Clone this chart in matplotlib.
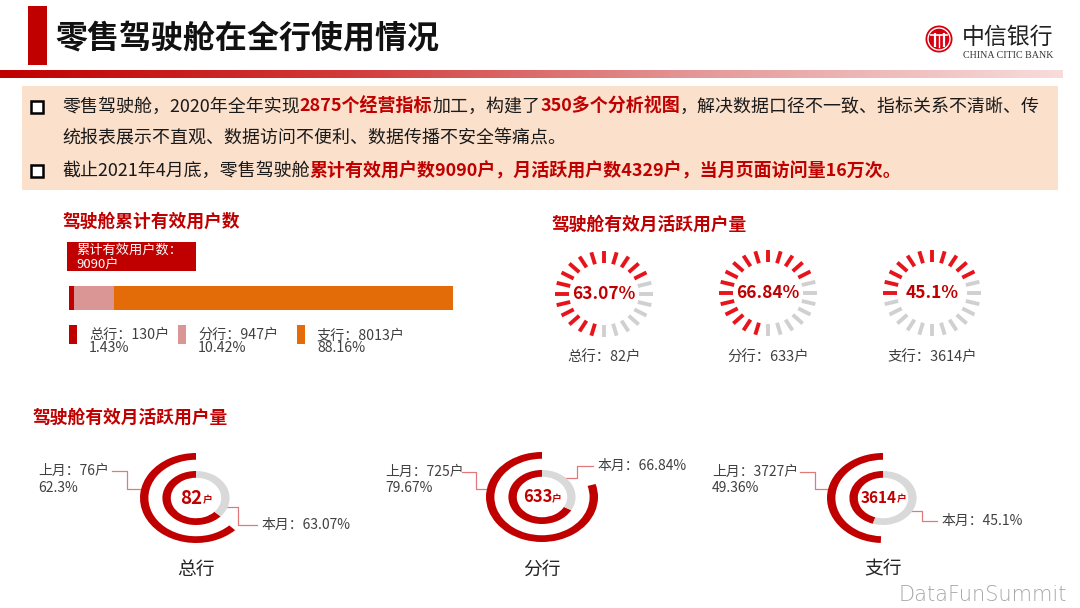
import matplotlib
matplotlib.use('Agg')
import matplotlib.pyplot as plt
import numpy as np
from matplotlib.patches import Rectangle, Circle
from matplotlib.colors import LinearSegmentedColormap

plt.rcParams['font.family'] = ['Noto Sans CJK SC', 'DejaVu Sans']

# ---------------- data ----------------
title = "零售驾驶舱在全行使用情况"
branches = ['总行', '分行', '支行']
total_users = [130, 947, 8013]
total_pct = [1.43, 10.42, 88.16]
total_sum = 9090
active_users = [82, 633, 3614]
active_rate = [63.07, 66.84, 45.1]
last_users = [76, 725, 3727]
last_rate = [62.3, 79.67, 49.36]

line1 = [("零售驾驶舱，2020年全年实现", 0), ("2875个经营指标", 1), ("加工，构建了", 0),
         ("350多个分析视图", 1), ("，解决数据口径不一致、指标关系不清晰、传", 0)]
line2 = [("统报表展示不直观、数据访问不便利、数据传播不安全等痛点。", 0)]
line3 = [("截止2021年4月底，零售驾驶舱", 0),
         ("累计有效用户数9090户，月活跃用户数4329户，当月页面访问量16万次。", 1)]

RED = '#c00000'
BRIGHT = '#e8141c'
GREY = '#d9d9d9'
TXT = '#404040'
bar_colors = ['#c00000', '#d99694', '#e36c09']

W, H = 1080, 608
fig = plt.figure(figsize=(10.8, 6.08), dpi=100)
bg = fig.add_axes([0, 0, 1, 1])
bg.set_xlim(0, W); bg.set_ylim(H, 0); bg.axis('off')


def px_axes(x, y, w, h):
    ax = fig.add_axes([x / W, 1 - (y + h) / H, w / W, h / H])
    ax.axis('off')
    return ax


# ---------------- header ----------------
bg.add_patch(Rectangle((28, 6), 19, 59, color=RED, lw=0))
bg.text(55, 38, title, fontsize=23, fontweight='bold', va='center', ha='left', color='#111111')
cmap = LinearSegmentedColormap.from_list('g', ['#c00000', '#d23c3c', '#e59a9a', '#f8dcdc'])
grad = np.linspace(0, 1, 256).reshape(1, -1)
bg.imshow(grad, cmap=cmap, extent=(0, 1063, 78, 70), aspect='auto')
bg.set_xlim(0, W); bg.set_ylim(H, 0)

# logo
bg.add_patch(Circle((939, 39), 13.5, color='#d7000f', lw=0))
bg.add_patch(Circle((939, 39), 11, fill=False, ec='white', lw=1))
for xx in (934.5, 943.5):
    bg.plot([xx, xx], [33, 47], color='white', lw=1.6, solid_capstyle='butt')
bg.plot([931, 947], [35, 35], color='white', lw=1.2)
bg.plot([939, 939], [35, 47], color='white', lw=1.0)
bg.text(962, 37, "中信银行", fontsize=16.5, va='center', ha='left', color='#222222')
bg.text(963, 55, "CHINA CITIC BANK", fontsize=7.2, va='center', ha='left',
        family='Liberation Serif', color='#333333')

# ---------------- info box ----------------
bg.add_patch(Rectangle((22, 86), 1036, 104, color='#fbe0cb', lw=0))


def rich_line(x, y, segs, size):
    t = None
    for s, hl in segs:
        kw = dict(fontsize=size, color=RED if hl else '#1a1a1a',
                  fontweight='bold' if hl else 'normal')
        if t is None:
            t = bg.text(x, y, s, va='center', ha='left', **kw)
        else:
            t = bg.annotate(s, xy=(1, 0), xycoords=t, va='bottom', ha='left', **kw)


for yy, segs in zip([107, 139, 171], [line1, line2, line3]):
    rich_line(62, yy, segs, 12.95)
for yy in (107, 171):
    bg.plot(37, yy, marker='s', ms=8, mfc='white', mec='black', mew=1.8)

# ---------------- cumulative users bar ----------------
bg.text(63, 222, "驾驶舱累计有效用户数", fontsize=12.8, fontweight='bold', color=RED, va='center')
bg.add_patch(Rectangle((67, 242), 129, 29, color=RED, lw=0))
bg.text(76, 250, "累计有效用户数：", fontsize=9.5, color='white', va='center')
bg.text(76, 264, f"{total_sum}户", fontsize=9.5, color='white', va='center')

axb = px_axes(69, 286, 384, 23.5)
left = 0
for v, c in zip(total_users, bar_colors):
    axb.barh(0, v, left=left, height=1, color=c, edgecolor='none')
    left += v
axb.set_xlim(0, total_sum); axb.set_ylim(-0.5, 0.5)

leg_x = [69, 178, 297]
for i in range(3):
    bg.add_patch(Rectangle((leg_x[i], 325), 7.5, 19, color=bar_colors[i], lw=0))
    bg.text(leg_x[i] + 20, 335, f"{branches[i]}：{total_users[i]}户", fontsize=10.2, color=TXT, va='center')
    bg.text(leg_x[i] + 20, 348, f"{total_pct[i]:.2f}%", fontsize=10.2, color=TXT, va='center')

# ---------------- gauges ----------------
bg.text(552, 225, "驾驶舱有效月活跃用户量", fontsize=12.8, fontweight='bold', color=RED, va='center')
gauge_centers = [(604, 294), (768, 293), (932, 293)]
n_ticks = 24
END = 62.0
for i, (cx, cy) in enumerate(gauge_centers):
    ax = px_axes(cx - 50, cy - 44, 100, 88)
    ax.set_xlim(-1, 1); ax.set_ylim(-1, 1)
    span = active_rate[i] / 100 * 360
    for k in range(n_ticks):
        a = k * 360 / n_ticks
        red = ((END - a) % 360) <= span
        t = np.deg2rad(a)
        ax.plot([0.70 * np.sin(t), 0.98 * np.sin(t)], [0.70 * np.cos(t), 0.98 * np.cos(t)],
                color=BRIGHT if red else '#d0d0d0', lw=2.8, solid_capstyle='butt', clip_on=False)
    ax.text(0, 0, f"{active_rate[i]:g}%", ha='center', va='center', fontsize=12.5,
            fontweight='bold', color=RED)
    bg.text(cx, 358, f"{branches[i]}：{active_users[i]}户", fontsize=10.4, color=TXT,
            ha='center', va='center')

# ---------------- donuts ----------------
bg.text(33, 418, "驾驶舱有效月活跃用户量", fontsize=12.8, fontweight='bold', color=RED, va='center')
donut_centers = [(196, 498), (542, 497), (883, 498)]
num_sizes = [13.5, 12, 11]
last_lbl = [(38, 471), (385, 472), (712, 472)]
now_lbl = [(262, 525), (597, 466), (941, 521)]
last_conn = [[(112, 471), (127, 471), (127, 489), (141, 489)],
             [(462, 472), (476, 472), (476, 489), (488, 489)],
             [(800, 472), (815, 472), (815, 489), (829, 489)]]
now_conn = [[(223, 507), (238, 507), (238, 525), (257, 525)],
            [(563, 478), (577, 478), (577, 466), (593, 466)],
            [(907, 511), (922, 511), (922, 521), (937, 521)]]
for i, (cx, cy) in enumerate(donut_centers):
    ax = px_axes(cx - 56, cy - 45, 112, 90)
    ax.pie([last_rate[i], 100 - last_rate[i]], colors=[RED, 'none'], startangle=90,
           counterclock=True, radius=1, wedgeprops=dict(width=0.15, edgecolor='none'))
    ax.pie([active_rate[i], 100 - active_rate[i]], colors=[RED, GREY], startangle=90,
           counterclock=True, radius=0.6, wedgeprops=dict(width=0.15, edgecolor='none'))
    ax.set_xlim(-1, 1); ax.set_ylim(-1, 1); ax.set_aspect('auto'); ax.axis('off')
    nt = ax.text(-0.08, 0, f"{active_users[i]}", ha='center', va='center',
                 fontsize=num_sizes[i], fontweight='bold', color=RED)
    ax.annotate("户", xy=(1, 0.12), xycoords=nt, ha='left', va='bottom', fontsize=7,
                fontweight='bold', color=RED)
    # labels
    lx, ly = last_lbl[i]
    bg.text(lx, ly, f"上月：{last_users[i]}户", fontsize=10, color=TXT, va='center')
    bg.text(lx, ly + 16.5, f"{last_rate[i]:g}%", fontsize=10, color=TXT, va='center')
    nx, ny = now_lbl[i]
    bg.text(nx, ny, f"本月：{active_rate[i]:g}%", fontsize=10, color=TXT, va='center')
    for pts in (last_conn[i], now_conn[i]):
        xs, ys = zip(*pts)
        bg.plot(xs, ys, color='#e07a7a', lw=0.9)
    bg.text(cx, 569, branches[i], fontsize=13.5, color='#262626', ha='center', va='center')

bg.text(1067, 595, "DataFunSummit", fontsize=15, color='#a6a6a6', ha='right', va='center',
        family='DejaVu Sans', fontweight='light')

fig.savefig('out.png', dpi=100)
